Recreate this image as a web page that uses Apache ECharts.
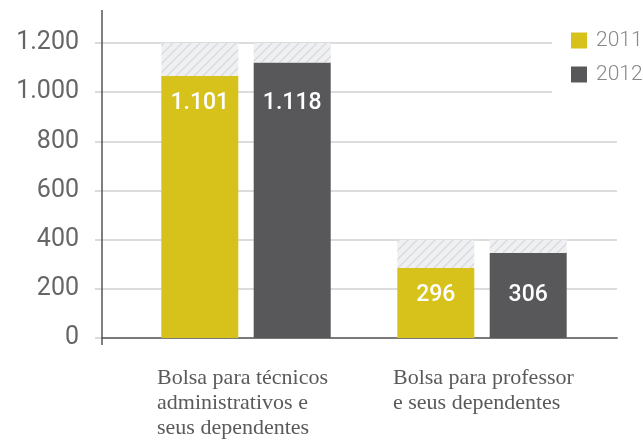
<!DOCTYPE html>
<html>
<head>
<meta charset="utf-8">
<script src="https://cdn.jsdelivr.net/npm/echarts@6/dist/echarts.min.js"></script>
<style>
  html, body { margin: 0; padding: 0; background: #fff; }
  #main { width: 643px; height: 440px; }
</style>
</head>
<body>
<div id="main"></div>
<script>
var categories = ['Bolsa para técnicos\nadministrativos e\nseus dependentes', 'Bolsa para professor\ne seus dependentes']
var seriesNames = ['2011', '2012']
// bar heights as drawn in the picture
var values2011 = [1066, 285]
var values2012 = [1121, 346]
// printed labels
var labels2011 = ['1.101', '296']
var labels2012 = ['1.118', '306']
// hatched caps behind each pair
var caps = [1200, 400]
var yTicks = [0, 200, 400, 600, 800, 1000, 1200]

var yellow = '#d6c21b'
var gray = '#58585a'

// diagonal hatch pattern
function hatch () {
  var c = document.createElement('canvas')
  c.width = 9
  c.height = 9
  var ctx = c.getContext('2d')
  ctx.fillStyle = '#eff0f2'
  ctx.fillRect(0, 0, 9, 9)
  ctx.strokeStyle = '#d9dadd'
  ctx.lineWidth = 1.4
  ctx.beginPath()
  ctx.moveTo(-1, 10); ctx.lineTo(10, -1)
  ctx.moveTo(-1, 1); ctx.lineTo(1, -1)
  ctx.moveTo(8, 10); ctx.lineTo(10, 8)
  ctx.stroke()
  return { image: c, repeat: 'repeat' }
}
var pattern = hatch()

function fmt (v) {
  return String(v).replace(/\B(?=(\d{3})+(?!\d))/g, '.')
}

var rest2011 = values2011.map(function (v, i) { return caps[i] - v })
var rest2012 = values2012.map(function (v, i) { return caps[i] - v })

var chart = echarts.init(document.getElementById('main'))

var barLabel = {
  show: true,
  position: 'insideTop',
  distance: 16,
  color: '#fff',
  fontFamily: 'Roboto',
  fontWeight: 500,
  fontSize: 23
}

chart.setOption({
  animation: false,
  legend: {
    orient: 'vertical',
    left: 552,
    top: 20,
    padding: [10, 0, 20, 19],
    backgroundColor: '#fff',
    itemWidth: 16,
    itemHeight: 16,
    itemGap: 13,
    icon: 'rect',
    data: seriesNames,
    textStyle: { color: '#888', fontFamily: 'Roboto', fontWeight: 300, fontSize: 21, padding: [0, 0, 0, 4] },
    z: 20
  },
  graphic: [{
    type: 'line',
    shape: { x1: 102, y1: 10, x2: 102, y2: 345 },
    style: { stroke: '#555', lineWidth: 1.5 },
    z: 10
  }],
  grid: [
    { left: 102, right: 26, top: 43, bottom: 102, outerBoundsMode: 'none', containLabel: false },
    { left: 128, right: 43, top: 43, bottom: 102, outerBoundsMode: 'none', containLabel: false }
  ],
  xAxis: [
    {
      gridIndex: 0,
      type: 'category',
      data: [''],
      axisLine: { show: true, lineStyle: { color: '#7a7a7a', width: 2 } },
      axisTick: { show: false },
      axisLabel: { show: false }
    },
    {
      gridIndex: 1,
      type: 'category',
      data: categories,
      axisLine: { show: false },
      axisTick: { show: false },
      axisLabel: {
        margin: 28,
        formatter: function (v) {
          return v.split('\n').map(function (l) { return '{t|' + l + '}' }).join('\n')
        },
        rich: {
          t: {
            width: 178,
            align: 'left',
            lineHeight: 25,
            fontSize: 22,
            fontFamily: 'Liberation Serif',
            color: '#5a5a5a'
          }
        }
      }
    }
  ],
  yAxis: [
    {
      gridIndex: 0,
      type: 'value',
      min: 0,
      max: yTicks[yTicks.length - 1],
      interval: yTicks[1] - yTicks[0],
      axisLine: { show: false },
      axisTick: { show: true, length: 7, lineStyle: { color: '#d0d0d0', width: 1.5 } },
      splitLine: { lineStyle: { color: '#d0d0d0', width: 1.5 } },
      axisLabel: {
        margin: 23,
        color: '#666',
        fontFamily: 'Roboto',
        fontWeight: 400,
        fontSize: 25,
        formatter: fmt
      }
    },
    {
      gridIndex: 1,
      type: 'value',
      min: 0,
      max: yTicks[yTicks.length - 1],
      show: false,
      splitLine: { show: false }
    }
  ],
  series: [
    {
      name: '2011',
      type: 'bar',
      xAxisIndex: 1,
      yAxisIndex: 1,
      stack: 'a',
      barWidth: 77,
      barGap: '20%',
      itemStyle: { color: yellow },
      label: Object.assign({}, barLabel, { formatter: function (p) { return labels2011[p.dataIndex] } }),
      data: values2011
    },
    {
      name: 'cap2011',
      type: 'bar',
      xAxisIndex: 1,
      yAxisIndex: 1,
      stack: 'a',
      barWidth: 77,
      itemStyle: { color: pattern },
      data: rest2011
    },
    {
      name: '2012',
      type: 'bar',
      xAxisIndex: 1,
      yAxisIndex: 1,
      stack: 'b',
      barWidth: 77,
      barGap: '20%',
      itemStyle: { color: gray },
      label: Object.assign({}, barLabel, { formatter: function (p) { return labels2012[p.dataIndex] } }),
      data: values2012
    },
    {
      name: 'cap2012',
      type: 'bar',
      xAxisIndex: 1,
      yAxisIndex: 1,
      stack: 'b',
      barWidth: 77,
      itemStyle: { color: pattern },
      data: rest2012
    }
  ]
})

// line up 2012 labels with the 2011 labels of the same group
var y0 = chart.convertToPixel({ yAxisIndex: 1 }, 0)
var y1 = chart.convertToPixel({ yAxisIndex: 1 }, 1200)
var pxPerUnit = (y0 - y1) / 1200
chart.setOption({
  series: [{}, {}, {
    data: values2012.map(function (v, i) {
      return { value: v, label: { offset: [0, (v - values2011[i]) * pxPerUnit] } }
    })
  }, {}]
})
</script>
</body>
</html>
